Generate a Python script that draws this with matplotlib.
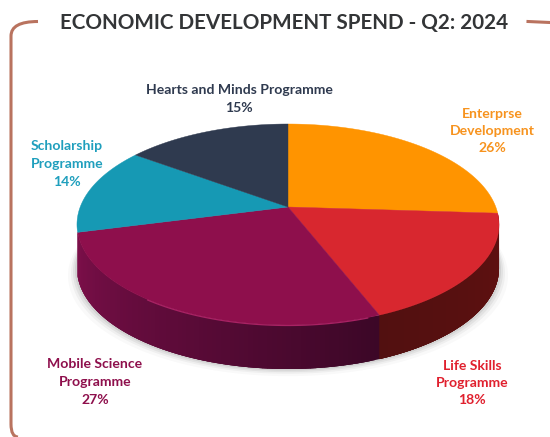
import numpy as np
import matplotlib
matplotlib.use("Agg")
import matplotlib.pyplot as plt
from matplotlib.colors import to_rgb
from matplotlib.path import Path
from matplotlib.patches import PathPatch

# Data: clockwise from 12 o'clock
categories = ["Enterprse\nDevelopment", "Life Skills\nProgramme", "Mobile Science\nProgramme",
              "Scholarship\nProgramme", "Hearts and Minds Programme"]
spend_pct = [26, 18, 27, 14, 15]

plt.rcParams["font.family"] = ["Lato", "DejaVu Sans"]
plt.rcParams["font.weight"] = "bold"

top_colors = ["#ff9400", "#d8272f", "#8e0f4c", "#1699b4", "#2f3a4f"]
text_colors = ["#f7931e", "#e0202e", "#8e0f4c", "#1f9fbd", "#2f3a4f"]
# wall shade at the clockwise start and end of each visible slice
wall_colors = {1: ("#611010", "#521010"), 2: ("#3c0727", "#7d0f4a")}

# Apex of the pie on screen and the perspective tilt
cx, cy = 288, 207
bx, by, tilt = 207.8, 97.45, -0.1741
depth = 44


def project(theta):
    # theta in radians, clockwise from the top of the disc
    u, v = np.sin(theta), -np.cos(theta)
    w = 1 + tilt * v
    return cx + bx * u / w, cy + by * v / w


fig = plt.figure(figsize=(5.5, 4.37), dpi=100)
ax = fig.add_axes([0, 0, 1, 1])
ax.set_xlim(0, 550)
ax.set_ylim(437, 0)
ax.axis("off")

edges = np.cumsum([0] + spend_pct) / sum(spend_pct) * 2 * np.pi

# Soft shadow under the disc
ring = np.linspace(0, 2 * np.pi, 300)
sx, sy = project(ring)
for grow, alpha in zip([9, 6, 4, 2], [0.025, 0.04, 0.05, 0.07]):
    ax.fill(cx + (sx - cx) * (1 + grow / 211), sy + depth + grow * 0.8, color="black", alpha=alpha, lw=0)

# Side wall: only the red and purple slices show one. Strips overlap so no seams appear.
for i in wall_colors:
    first, last = edges[i], edges[i + 1]
    strips = np.linspace(first, last, 90)
    start_col, end_col = [np.array(to_rgb(c)) for c in wall_colors[i]]
    for j, a in enumerate(strips[:-1]):
        pos = j / (len(strips) - 2)
        tt = np.linspace(a, min(a + 0.06, last), 5)
        x, y = project(tt)
        ax.fill(np.r_[x, x[::-1]], np.r_[y, y[::-1] + depth],
                color=start_col * (1 - pos) + end_col * pos, lw=0)

# Top face
for i, col in enumerate(top_colors):
    tt = np.linspace(edges[i], edges[i + 1], 120)
    x, y = project(tt)
    ax.fill(np.r_[cx, x], np.r_[cy, y], color=col, lw=0.3)

# Faint highlight on the front rim of the purple slice
x, y = project(np.linspace(edges[2] + 0.05, edges[3] - 0.7, 60)[::-1])
ax.plot(x, y + 0.5, color="#a92264", lw=0.9, solid_capstyle="round")

# Labels
label_xy = [(492, 131), (472, 383), (95, 382), (67, 164), (239, 99)]
for name, pct, col, (lx, ly) in zip(categories, spend_pct, text_colors, label_xy):
    ax.text(lx, ly, f"{name}\n{pct}%", color=col, fontsize=10.1, ha="center", va="center",
            linespacing=1.55)

ax.text(284.5, 22.5, "ECONOMIC DEVELOPMENT SPEND - Q2: 2024", color="#333537", fontsize=14.9,
        ha="center", va="center")

# Broken rounded frame around the chart
frame_col = "#b9735f"
left = Path([(38, 21.5), (11, 21.5), (11, 36), (11, 424), (11, 437), (18, 437)],
            [Path.MOVETO, Path.CURVE3, Path.CURVE3, Path.LINETO, Path.CURVE3, Path.CURVE3])
ax.add_patch(PathPatch(left, fill=False, edgecolor=frame_col, lw=2.2))
ax.plot([528, 550], [21.5, 22.5], color=frame_col, lw=2.2)

fig.savefig("out.png", dpi=100)
